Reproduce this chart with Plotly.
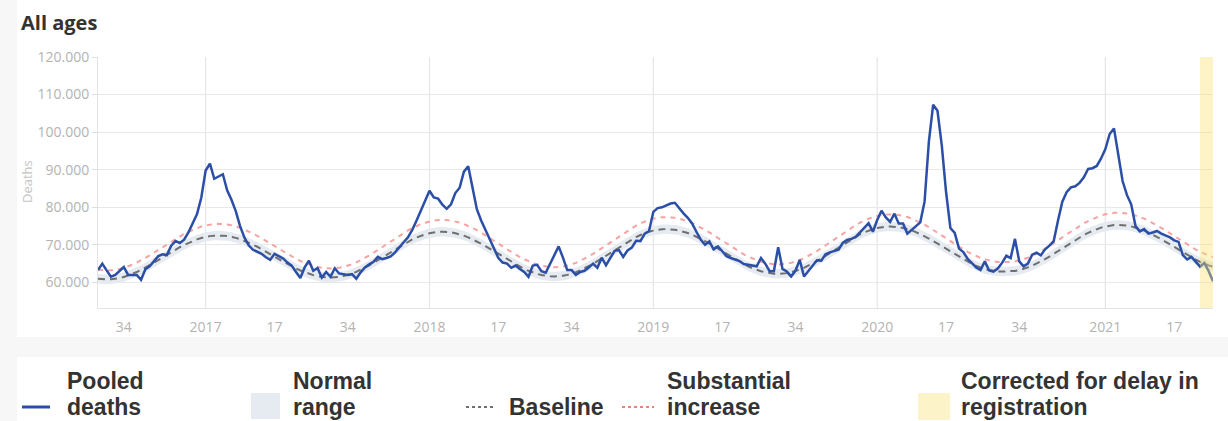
import plotly.graph_objects as go

# ISO weeks on the x axis: 2016-W28 .. 2021-W26
YEAR_WEEKS = [(2016, 28, 52), (2017, 1, 52), (2018, 1, 52), (2019, 1, 52), (2020, 1, 53), (2021, 1, 26)]
weeks = [f"{y}-W{w:02d}" for y, first, last in YEAR_WEEKS for w in range(first, last + 1)]

pooled_deaths = [
    63300, 65000, 63200, 61500, 62000, 63000, 64100, 62000, 62100, 62000,
    60700, 63500, 64300, 65800, 67000, 67500, 67300, 69800, 71000, 70500,
    71400, 73300, 75700, 78200, 82600, 89800, 91600, 87600, 88200, 88800,
    84500, 82000, 79000, 75000, 72000, 69900, 68700, 68200, 67600, 66700,
    66000, 67600, 67000, 66400, 65300, 64500, 62800, 61200, 64000, 65800,
    63100, 63800, 61300, 62800, 61500, 63800, 62400, 62200, 62000, 62200,
    61000, 62700, 64000, 64800, 65500, 66800, 66200, 66500, 66900, 68000,
    69500, 70700, 72000, 74000, 76500, 79000, 81500, 84400, 82600, 82300,
    80700, 79600, 80800, 83800, 85200, 89500, 90900, 85000, 79500, 76500,
    74000, 71300, 68800, 66500, 65300, 65000, 63900, 64500, 63600, 62800,
    61500, 64500, 64700, 63000, 62600, 64900, 67300, 69600, 66600, 63300,
    63300, 62000, 62800, 63100, 64000, 65000, 63900, 66600, 64600, 66600,
    68400, 68600, 66800, 68500, 69300, 71100, 71000, 73000, 73700, 78800,
    79800, 80000, 80500, 81000, 81200, 79700, 78400, 77200, 75700, 73500,
    71400, 70000, 70900, 68800, 69600, 68300, 67000, 66500, 66200, 65700,
    64900, 64700, 64500, 64300, 66500, 65000, 63000, 63000, 69400, 63600,
    62900, 61600, 63100, 66000, 61600, 63000, 64200, 65900, 65800, 67500,
    68000, 68300, 68700, 70500, 71300, 71600, 72100, 73300, 74500, 75800,
    73500, 76600, 79100, 77300, 76100, 78300, 75700, 75700, 73000, 74000,
    74800, 76000, 81500, 97500, 107300, 105700, 96500, 84000, 74500, 73200,
    69000, 68100, 66300, 65000, 64000, 63300, 65600, 63200, 62900, 63700,
    65200, 67100, 66500, 71600, 65600, 64300, 65000, 67400, 67900, 67200,
    68800, 69800, 71000, 76500, 81500, 84000, 85300, 85600, 86500, 88000,
    90200, 90400, 91000, 93000, 95500, 99500, 101000, 94000, 87000, 83300,
    80800, 75000, 73600, 74200, 73000, 73300, 73700, 73000, 72500, 72000,
    71200, 70800, 67300, 66100, 66800, 65600, 64200, 65200, 63000, 60300,
]

baseline = [
    61000, 60850,
    60800, 60840, 60970, 61180, 61470, 61840, 62270, 62770, 63330, 63930,
    64580, 65250, 65950, 66650, 67360, 68050, 68720, 69370, 69970, 70530,
    71030, 71460, 71830, 72120, 72330, 72460, 72500,
    72460, 72340, 72140, 71860, 71510, 71090, 70610, 70080, 69500, 68890,
    68240, 67580, 66900, 66230, 65560, 64910, 64300, 63720, 63190, 62710,
    62290, 61940, 61660, 61460, 61340, 61300,
    61340, 61480, 61700, 62000, 62380, 62830, 63360, 63940, 64570, 65240,
    65940, 66670, 67400, 68140, 68860, 69560, 70230, 70870, 71450, 71970,
    72420, 72800, 73100, 73320, 73460, 73500,
    73460, 73330, 73110, 72820, 72450, 72000, 71500, 70930, 70320, 69660,
    68970, 68270, 67550, 66830, 66130, 65440, 64790, 64170, 63600, 63100,
    62650, 62280, 61990, 61770, 61640, 61600,
    61650, 61780, 62010, 62320, 62720, 63180, 63720, 64320, 64970, 65670,
    66390, 67140, 67900, 68660, 69410, 70130, 70830, 71480, 72080, 72620,
    73090, 73480, 73790, 74020, 74150, 74200,
    74160, 74030, 73810, 73520, 73150, 72700, 72200, 71630, 71020, 70360,
    69670, 68970, 68250, 67530, 66830, 66140, 65490, 64870, 64300, 63800,
    63350, 62980, 62690, 62470, 62340, 62300,
    62350, 62480, 62710, 63020, 63420, 63880, 64420, 65020, 65670, 66370,
    67090, 67840, 68600, 69360, 70110, 70830, 71530, 72180, 72780, 73320,
    73790, 74180, 74490, 74720, 74850, 74900,
    74860, 74730, 74510, 74210, 73840, 73390, 72880, 72310, 71690, 71030,
    70340, 69620, 68900, 68180, 67460, 66770, 66110, 65490, 64920, 64410,
    63960, 63590, 63290, 63070, 62940, 62900,
    62900,
    62950, 63080, 63300, 63610, 64000, 64460, 64990, 65580, 66220, 66900,
    67620, 68350, 69100, 69850, 70580, 71300, 71980, 72620, 73210, 73740,
    74200, 74590, 74900, 75120, 75260, 75300,
    75260, 75130, 74920, 74620, 74260, 73820, 73310, 72750, 72140, 71490,
    70810, 70110, 69400, 68690, 67990, 67310, 66660, 66050, 65490, 64980,
    64540, 64180,
]

normal_upper = [
    62250, 62100,
    62050, 62090, 62220, 62430, 62720, 63090, 63520, 64020, 64580, 65180,
    65830, 66500, 67200, 67900, 68610, 69300, 69970, 70620, 71220, 71780,
    72280, 72710, 73080, 73370, 73580, 73710, 73750,
    73710, 73590, 73390, 73110, 72760, 72340, 71860, 71330, 70750, 70140,
    69490, 68830, 68150, 67480, 66810, 66160, 65550, 64970, 64440, 63960,
    63540, 63190, 62910, 62710, 62590, 62550,
    62590, 62730, 62950, 63250, 63630, 64080, 64610, 65190, 65820, 66490,
    67190, 67920, 68650, 69390, 70110, 70810, 71480, 72120, 72700, 73220,
    73670, 74050, 74350, 74570, 74710, 74750,
    74710, 74580, 74360, 74070, 73700, 73250, 72750, 72180, 71570, 70910,
    70220, 69520, 68800, 68080, 67380, 66690, 66040, 65420, 64850, 64350,
    63900, 63530, 63240, 63020, 62890, 62850,
    62900, 63030, 63260, 63570, 63970, 64430, 64970, 65570, 66220, 66920,
    67640, 68390, 69150, 69910, 70660, 71380, 72080, 72730, 73330, 73870,
    74340, 74730, 75040, 75270, 75400, 75450,
    75410, 75280, 75060, 74770, 74400, 73950, 73450, 72880, 72270, 71610,
    70920, 70220, 69500, 68780, 68080, 67390, 66740, 66120, 65550, 65050,
    64600, 64230, 63940, 63720, 63590, 63550,
    63600, 63730, 63960, 64270, 64670, 65130, 65670, 66270, 66920, 67620,
    68340, 69090, 69850, 70610, 71360, 72080, 72780, 73430, 74030, 74570,
    75040, 75430, 75740, 75970, 76100, 76150,
    76110, 75980, 75760, 75460, 75090, 74640, 74130, 73560, 72940, 72280,
    71590, 70870, 70150, 69430, 68710, 68020, 67360, 66740, 66170, 65660,
    65210, 64840, 64540, 64320, 64190, 64150,
    64150,
    64200, 64330, 64550, 64860, 65250, 65710, 66240, 66830, 67470, 68150,
    68870, 69600, 70350, 71100, 71830, 72550, 73230, 73870, 74460, 74990,
    75450, 75840, 76150, 76370, 76510, 76550,
    76510, 76380, 76170, 75870, 75510, 75070, 74560, 74000, 73390, 72740,
    72060, 71360, 70650, 69940, 69240, 68560, 67910, 67300, 66740, 66230,
    65790, 65430,
]

normal_lower = [
    59750, 59600,
    59550, 59590, 59720, 59930, 60220, 60590, 61020, 61520, 62080, 62680,
    63330, 64000, 64700, 65400, 66110, 66800, 67470, 68120, 68720, 69280,
    69780, 70210, 70580, 70870, 71080, 71210, 71250,
    71210, 71090, 70890, 70610, 70260, 69840, 69360, 68830, 68250, 67640,
    66990, 66330, 65650, 64980, 64310, 63660, 63050, 62470, 61940, 61460,
    61040, 60690, 60410, 60210, 60090, 60050,
    60090, 60230, 60450, 60750, 61130, 61580, 62110, 62690, 63320, 63990,
    64690, 65420, 66150, 66890, 67610, 68310, 68980, 69620, 70200, 70720,
    71170, 71550, 71850, 72070, 72210, 72250,
    72210, 72080, 71860, 71570, 71200, 70750, 70250, 69680, 69070, 68410,
    67720, 67020, 66300, 65580, 64880, 64190, 63540, 62920, 62350, 61850,
    61400, 61030, 60740, 60520, 60390, 60350,
    60400, 60530, 60760, 61070, 61470, 61930, 62470, 63070, 63720, 64420,
    65140, 65890, 66650, 67410, 68160, 68880, 69580, 70230, 70830, 71370,
    71840, 72230, 72540, 72770, 72900, 72950,
    72910, 72780, 72560, 72270, 71900, 71450, 70950, 70380, 69770, 69110,
    68420, 67720, 67000, 66280, 65580, 64890, 64240, 63620, 63050, 62550,
    62100, 61730, 61440, 61220, 61090, 61050,
    61100, 61230, 61460, 61770, 62170, 62630, 63170, 63770, 64420, 65120,
    65840, 66590, 67350, 68110, 68860, 69580, 70280, 70930, 71530, 72070,
    72540, 72930, 73240, 73470, 73600, 73650,
    73610, 73480, 73260, 72960, 72590, 72140, 71630, 71060, 70440, 69780,
    69090, 68370, 67650, 66930, 66210, 65520, 64860, 64240, 63670, 63160,
    62710, 62340, 62040, 61820, 61690, 61650,
    61650,
    61700, 61830, 62050, 62360, 62750, 63210, 63740, 64330, 64970, 65650,
    66370, 67100, 67850, 68600, 69330, 70050, 70730, 71370, 71960, 72490,
    72950, 73340, 73650, 73870, 74010, 74050,
    74010, 73880, 73670, 73370, 73010, 72570, 72060, 71500, 70890, 70240,
    69560, 68860, 68150, 67440, 66740, 66060, 65410, 64800, 64240, 63730,
    63290, 62930,
]

substantial_increase = [
    63400, 63240,
    63190, 63230, 63370, 63590, 63900, 64290, 64750, 65280, 65870, 66510,
    67190, 67910, 68650, 69390, 70140, 70870, 71580, 72270, 72910, 73500,
    74030, 74490, 74880, 75190, 75410, 75550, 75590,
    75550, 75420, 75210, 74910, 74540, 74100, 73590, 73020, 72410, 71760,
    71070, 70370, 69650, 68940, 68230, 67540, 66900, 66280, 65720, 65210,
    64770, 64400, 64100, 63890, 63760, 63720,
    63760, 63910, 64140, 64460, 64860, 65340, 65900, 66520, 67180, 67890,
    68640, 69410, 70180, 70970, 71730, 72470, 73180, 73860, 74480, 75030,
    75510, 75910, 76230, 76460, 76610, 76650,
    76610, 76470, 76240, 75930, 75540, 75060, 74530, 73930, 73280, 72580,
    71850, 71110, 70340, 69580, 68840, 68110, 67420, 66760, 66160, 65630,
    65150, 64760, 64450, 64220, 64080, 64040,
    64090, 64230, 64470, 64800, 65220, 65710, 66280, 66920, 67610, 68350,
    69110, 69910, 70710, 71520, 72310, 73080, 73820, 74510, 75140, 75720,
    76220, 76630, 76960, 77200, 77340, 77390,
    77350, 77210, 76980, 76670, 76280, 75800, 75270, 74670, 74020, 73320,
    72590, 71850, 71090, 70320, 69580, 68850, 68160, 67500, 66900, 66370,
    65890, 65500, 65190, 64960, 64820, 64780,
    64830, 64970, 65210, 65540, 65970, 66450, 67030, 67660, 68350, 69090,
    69860, 70650, 71460, 72260, 73060, 73820, 74560, 75250, 75890, 76460,
    76960, 77370, 77700, 77940, 78080, 78130,
    78090, 77950, 77720, 77400, 77010, 76530, 75990, 75390, 74730, 74030,
    73300, 72540, 71770, 71010, 70250, 69520, 68820, 68160, 67560, 67010,
    66540, 66150, 65830, 65590, 65460, 65410,
    65410,
    65470, 65600, 65840, 66170, 66580, 67070, 67630, 68250, 68930, 69650,
    70420, 71190, 71990, 72780, 73550, 74320, 75040, 75720, 76340, 76900,
    77390, 77810, 78130, 78370, 78520, 78560,
    78520, 78380, 78160, 77840, 77460, 76990, 76450, 75860, 75210, 74520,
    73800, 73060, 72300, 71550, 70810, 70090, 69400, 68750, 68160, 67620,
    67150, 66770,
]

for series in (pooled_deaths, baseline, normal_upper, normal_lower, substantial_increase):
    assert len(series) == len(weeks), (len(series), len(weeks))

tick_weeks = ["2016-W34", "2017-W01", "2017-W17", "2017-W34", "2018-W01", "2018-W17",
              "2018-W34", "2019-W01", "2019-W17", "2019-W34", "2020-W01", "2020-W17",
              "2020-W34", "2021-W01", "2021-W17"]
tick_labels = ["34", "2017", "17", "34", "2018", "17", "34", "2019", "17", "34",
               "2020", "17", "34", "2021", "17"]
year_starts = ["2017-W01", "2018-W01", "2019-W01", "2020-W01", "2021-W01"]
delay_corrected_from = "2021-W23"

# page geometry (pixels)
W, H = 1228, 421
ML, MR, MT, MB = 98, 15, 57, 113
PW, PH = W - ML - MR, H - MT - MB

def px(x):
    return (x - ML) / PW

def py(y):
    return (H - MB - y) / PH

BLUE = "#2b4fa6"
GREY_DASH = "#6f6f6f"
RED_DASH = "#f5a3a3"
BAND = "#e5ebf1"
YELLOW = "#fae170"
TEXT = "#333333"
AXIS_TEXT = "#b3b3b3"

fig = go.Figure()
fig.add_trace(go.Scatter(x=weeks, y=normal_upper, mode="lines", line=dict(width=0, color=BAND),
                         hoverinfo="skip", showlegend=False))
fig.add_trace(go.Scatter(x=weeks, y=normal_lower, mode="lines", line=dict(width=0, color=BAND),
                         fill="tonexty", fillcolor=BAND, name="Normal range", showlegend=False))
fig.add_trace(go.Scatter(x=weeks, y=baseline, mode="lines", name="Baseline", showlegend=False,
                         line=dict(color=GREY_DASH, width=2, dash="7px,5px")))
fig.add_trace(go.Scatter(x=weeks, y=substantial_increase, mode="lines", name="Substantial increase",
                         showlegend=False, line=dict(color=RED_DASH, width=2, dash="5px,5px")))
fig.add_trace(go.Scatter(x=weeks, y=pooled_deaths, mode="lines", name="Pooled deaths",
                         showlegend=False, line=dict(color=BLUE, width=2.5)))

shapes = []
# vertical grid at the first week of each year
for wk in year_starts:
    i = weeks.index(wk)
    shapes.append(dict(type="line", xref="x", yref="paper", x0=i, x1=i, y0=0, y1=1,
                       line=dict(color="#e6e6e6", width=1.2), layer="below"))
# weeks corrected for registration delay
shapes.append(dict(type="rect", xref="x", yref="paper", x0=weeks.index(delay_corrected_from),
                   x1=len(weeks) - 1, y0=0, y1=1, fillcolor=YELLOW, opacity=0.4,
                   line=dict(width=0), layer="above"))

# light page frame around the chart card
shapes.append(dict(type="rect", xref="paper", yref="paper", x0=px(0), x1=px(17), y0=py(H), y1=py(0),
                   fillcolor="#f7f7f7", line=dict(width=0), layer="below"))
shapes.append(dict(type="rect", xref="paper", yref="paper", x0=px(0), x1=px(W), y0=py(357), y1=py(337),
                   fillcolor="#f7f7f7", line=dict(width=0), layer="below"))

# legend swatches
TOP_Y, BOT_Y = 381, 407
shapes.append(dict(type="line", xref="paper", yref="paper", x0=px(22), x1=px(50), y0=py(BOT_Y), y1=py(BOT_Y),
                   line=dict(color=BLUE, width=3)))
shapes.append(dict(type="rect", xref="paper", yref="paper", x0=px(251), x1=px(280), y0=py(419), y1=py(393),
                   fillcolor=BAND, line=dict(width=0)))
shapes.append(dict(type="line", xref="paper", yref="paper", x0=px(466), x1=px(496), y0=py(BOT_Y), y1=py(BOT_Y),
                   line=dict(color=GREY_DASH, width=2, dash="3px,3px")))
shapes.append(dict(type="line", xref="paper", yref="paper", x0=px(622), x1=px(654), y0=py(BOT_Y), y1=py(BOT_Y),
                   line=dict(color="#f08080", width=2, dash="3px,3px")))
shapes.append(dict(type="rect", xref="paper", yref="paper", x0=px(918), x1=px(950), y0=py(420), y1=py(393),
                   fillcolor="#fdf3c8", line=dict(width=0)))

LEG_FONT = dict(family="Liberation Sans, Arial, sans-serif", size=23, color=TEXT, weight=700)
legend_text = [
    (66, "Pooled", "deaths"),
    (292, "Normal", "range"),
    (508, None, "Baseline"),
    (666, "Substantial", "increase"),
    (960, "Corrected for delay in", "registration"),
]
annotations = []
for x, top, bottom in legend_text:
    if top:
        annotations.append(dict(xref="paper", yref="paper", x=px(x), y=py(TOP_Y), text=top,
                                showarrow=False, xanchor="left", yanchor="middle", font=LEG_FONT,
                                borderpad=0))
    annotations.append(dict(xref="paper", yref="paper", x=px(x), y=py(BOT_Y), text=bottom,
                            showarrow=False, xanchor="left", yanchor="middle", font=LEG_FONT,
                            borderpad=0))

annotations.append(dict(xref="paper", yref="paper", x=px(19), y=py(23), text="<b>All ages</b>",
                        showarrow=False, xanchor="left", yanchor="middle",
                        font=dict(family="Open Sans, sans-serif", size=20, color=TEXT)))
annotations.append(dict(xref="paper", yref="paper", x=px(27), y=py(182), text="Deaths", textangle=-90,
                        showarrow=False, xanchor="center", yanchor="middle",
                        font=dict(family="Open Sans, sans-serif", size=13, color="#c4c4c4")))

fig.update_layout(
    width=W, height=H,
    margin=dict(l=ML, r=MR, t=MT, b=MB, pad=0),
    paper_bgcolor="white", plot_bgcolor="rgba(0,0,0,0)",
    separators=",.",
    shapes=shapes, annotations=annotations,
    showlegend=False,
    font=dict(family="Open Sans, sans-serif"),
)
fig.update_xaxes(type="category", range=[0, len(weeks) - 1], tickmode="array",
                 tickvals=tick_weeks, ticktext=tick_labels, showgrid=False,
                 showline=True, linecolor="#e3e3e3", linewidth=1,
                 ticks="outside", ticklen=6, tickcolor="rgba(0,0,0,0)",
                 tickfont=dict(size=14, color=AXIS_TEXT), zeroline=False)
fig.update_yaxes(range=[53200, 120000], tickmode="array",
                 tickvals=[60000, 70000, 80000, 90000, 100000, 110000, 120000],
                 tickformat=",d", showgrid=True, gridcolor="#e8e8e8", gridwidth=1,
                 showline=True, linecolor="#e3e3e3", ticks="outside", ticklen=5,
                 tickcolor="#dddddd", tickfont=dict(size=14, color=AXIS_TEXT), zeroline=False)

fig.write_html("out.html")
